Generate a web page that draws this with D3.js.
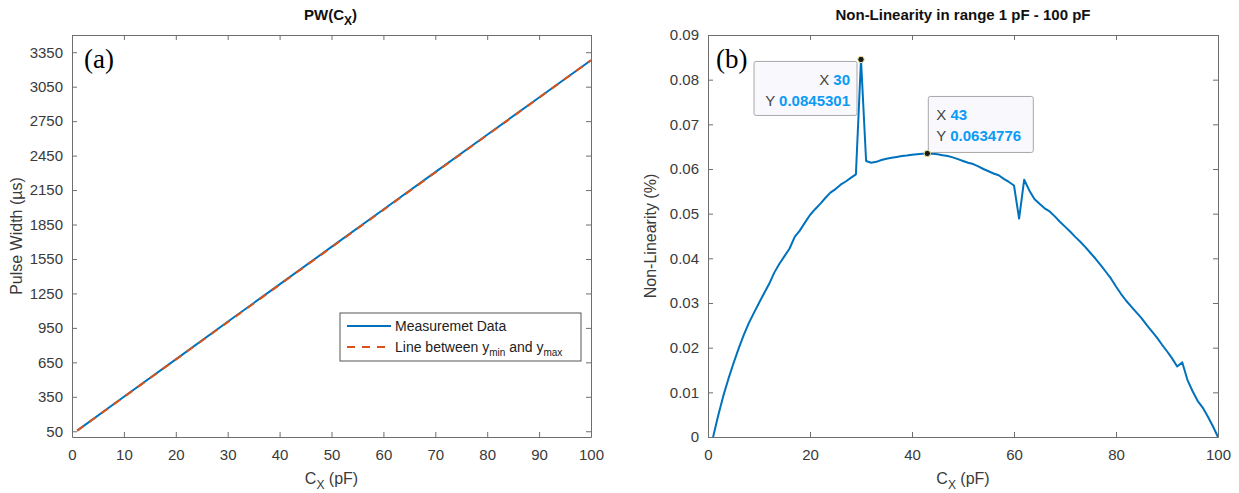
<!DOCTYPE html>
<html>
<head>
<meta charset="utf-8" />
<title>PW(Cx) and Non-Linearity</title>
<script src="https://d3js.org/d3.v7.min.js" charset="utf-8"></script>
<style>
  body { margin: 0; background: #fff; }
  svg { font-family: "Liberation Sans", Arial, sans-serif; }
  .axis path, .axis line { stroke: #6e6e6e; stroke-width: 1; }
  .axis text { fill: #3a3a3a; font-size: 15px; font-family: "Liberation Sans", Arial, sans-serif; }
  .lbl { fill: #3a3a3a; font-size: 16px; }
  .ttl { fill: #111; font-size: 15px; font-weight: bold; }
  .tag { fill: #000; font-size: 27px; font-family: "Liberation Serif", "Times New Roman", serif; }
</style>
</head>
<body>
<svg id="chart" width="1239" height="493"></svg>
<script>
// ---- data: left panel (pulse width) ----
var pwCx     = [1, 10, 20, 30, 40, 50, 60, 70, 80, 90, 100];
var pwValues = [55, 350, 676, 1003, 1329, 1655, 1981, 2306, 2631, 2956, 3280];
var fitCx     = [1, 100];
var fitValues = [55, 3280];
var pwTicksY  = [50, 350, 650, 950, 1250, 1550, 1850, 2150, 2450, 2750, 3050, 3350];
var pwTicksX  = [0, 10, 20, 30, 40, 50, 60, 70, 80, 90, 100];

// ---- data: right panel (non-linearity, %) ----
var nlCx = [
  1, 2, 3, 4, 5, 6, 7, 8, 9, 10, 11, 12, 13, 14, 15, 16, 17, 18, 19, 20,
  21, 22, 23, 24, 25, 26, 27, 28, 29, 30, 31, 32, 33, 34, 35, 36, 37, 38, 39, 40,
  41, 42, 43, 44, 45, 46, 47, 48, 49, 50, 51, 52, 53, 54, 55, 56, 57, 58, 59, 60,
  61, 62, 63, 64, 65, 66, 67, 68, 69, 70, 71, 72, 73, 74, 75, 76, 77, 78, 79, 80,
  81, 82, 83, 84, 85, 86, 87, 88, 89, 90, 91, 92, 93, 94, 95, 96, 97, 98, 99, 100
];
var nlValues = [
  0, 0.0048, 0.0092, 0.0130, 0.0165, 0.0198, 0.0228, 0.0255, 0.0278, 0.0300,
  0.0322, 0.0343, 0.0368, 0.0388, 0.0405, 0.0422, 0.0448, 0.0462, 0.0480, 0.0497,
  0.0510, 0.0522, 0.0535, 0.0547, 0.0555, 0.0565, 0.0572, 0.0580, 0.0588, 0.0845301,
  0.0618, 0.0614, 0.0616, 0.0620, 0.0623, 0.0625, 0.0627, 0.0629, 0.0630, 0.0632,
  0.0633, 0.0634, 0.0634776, 0.0634, 0.0633, 0.0631, 0.0629, 0.0626, 0.0622, 0.0618,
  0.0614, 0.0611, 0.0606, 0.0600, 0.0595, 0.0590, 0.0586, 0.0578, 0.0571, 0.0563,
  0.0489, 0.0576, 0.0552, 0.0533, 0.0522, 0.0512, 0.0505, 0.0494, 0.0482, 0.0471,
  0.0460, 0.0448, 0.0437, 0.0425, 0.0412, 0.0399, 0.0385, 0.0370, 0.0355, 0.0337,
  0.0320, 0.0305, 0.0292, 0.0279, 0.0266, 0.0251, 0.0237, 0.0223, 0.0207, 0.0192,
  0.0176, 0.0158, 0.0167, 0.0128, 0.0103, 0.0081, 0.0066, 0.0046, 0.0024, 0
];
var nlTicksY = [0, 0.01, 0.02, 0.03, 0.04, 0.05, 0.06, 0.07, 0.08, 0.09];
var nlTicksX = [0, 20, 40, 60, 80, 100];
var tipCx = [30, 43];
var tipValues = [0.0845301, 0.0634776];

// ---- settings ----
var blue = "#0072BD", orange = "#D95319", tickLen = 5;
var plotTop = 35, plotBottom = 437;
var svg = d3.select("#chart");

function boxAxes(g, sx, sy, ticksX, ticksY, fmtY) {
  var w = sx.range()[1] - sx.range()[0], h = sy.range()[0] - sy.range()[1];
  g.append("g").attr("class", "axis").attr("transform", "translate(0," + h + ")")
    .call(d3.axisBottom(sx).tickValues(ticksX).tickSizeInner(-tickLen).tickSizeOuter(0).tickPadding(12).tickFormat(d3.format("d")));
  g.append("g").attr("class", "axis")
    .call(d3.axisTop(sx).tickValues(ticksX).tickSizeInner(-tickLen).tickSizeOuter(0).tickFormat(""));
  g.append("g").attr("class", "axis")
    .call(d3.axisLeft(sy).tickValues(ticksY).tickSizeInner(-tickLen).tickSizeOuter(0).tickPadding(9).tickFormat(fmtY));
  g.append("g").attr("class", "axis").attr("transform", "translate(" + w + ",0)")
    .call(d3.axisRight(sy).tickValues(ticksY).tickSizeInner(-tickLen).tickSizeOuter(0).tickFormat(""));
  g.selectAll(".axis text").attr("fill", "#3a3a3a");
  g.selectAll(".axis line").attr("stroke", "#6e6e6e");
  g.selectAll(".axis path").attr("stroke", "#6e6e6e");
}

function xLabel(g, w, h) {
  var t = g.append("text").attr("class", "lbl").attr("x", w / 2).attr("y", h + 47).attr("text-anchor", "middle");
  t.append("tspan").text("C");
  t.append("tspan").attr("dy", 5).attr("font-size", 12).text("X");
  t.append("tspan").attr("dy", -5).text(" (pF)");
}

// ================= left panel =================
var w1 = 519, h1 = plotBottom - plotTop;
var x1 = d3.scaleLinear().domain([0, 100]).range([0, w1]);
var y1 = d3.scaleLinear().domain([0, 3500]).range([h1, 0]);
var leftG = svg.append("g").attr("transform", "translate(72," + plotTop + ")");

var pwLine = d3.line().x(function (d, i) { return x1(pwCx[i]); }).y(function (d) { return y1(d); });
var fitLine = d3.line().x(function (d, i) { return x1(fitCx[i]); }).y(function (d) { return y1(d); });

leftG.append("path").datum(pwValues).attr("d", pwLine)
  .attr("fill", "none").attr("stroke", blue).attr("stroke-width", 2);
leftG.append("path").datum(fitValues).attr("d", fitLine)
  .attr("fill", "none").attr("stroke", orange).attr("stroke-width", 2).attr("stroke-dasharray", "8,7");

boxAxes(leftG, x1, y1, pwTicksX, pwTicksY, d3.format("d"));
xLabel(leftG, w1, h1);

leftG.append("text").attr("class", "lbl").attr("text-anchor", "middle")
  .attr("transform", "translate(-50," + (h1 / 2) + ") rotate(-90)").text("Pulse Width (µs)");

var t1 = leftG.append("text").attr("class", "ttl").attr("x", w1 / 2 - 1).attr("y", -15).attr("text-anchor", "middle");
t1.append("tspan").text("PW(C");
t1.append("tspan").attr("dy", 5).attr("font-size", 12).text("X");
t1.append("tspan").attr("dy", -5).text(")");

leftG.append("text").attr("class", "tag").attr("x", 12).attr("y", 33).text("(a)");

// legend
var leg = leftG.append("g").attr("transform", "translate(268,278)");
leg.append("rect").attr("width", 241).attr("height", 48).attr("fill", "#fff").attr("stroke", "#555").attr("stroke-width", 1);
leg.append("line").attr("x1", 7).attr("x2", 51).attr("y1", 13).attr("y2", 13).attr("stroke", blue).attr("stroke-width", 2);
leg.append("line").attr("x1", 7).attr("x2", 51).attr("y1", 34).attr("y2", 34).attr("stroke", orange).attr("stroke-width", 2).attr("stroke-dasharray", "8,7");
leg.append("text").attr("x", 55).attr("y", 18).attr("font-size", 14).attr("fill", "#222").text("Measuremet Data");
var lt = leg.append("text").attr("x", 55).attr("y", 39).attr("font-size", 14).attr("fill", "#222");
lt.append("tspan").text("Line between y");
lt.append("tspan").attr("dy", 4).attr("font-size", 10).text("min");
lt.append("tspan").attr("dy", -4).text(" and y");
lt.append("tspan").attr("dy", 4).attr("font-size", 10).text("max");

// ================= right panel =================
var w2 = 510, h2 = plotBottom - plotTop;
var x2 = d3.scaleLinear().domain([0, 100]).range([0, w2]);
var y2 = d3.scaleLinear().domain([0, 0.09]).range([h2, 0]);
var rightG = svg.append("g").attr("transform", "translate(708," + plotTop + ")");

var nlLine = d3.line().x(function (d, i) { return x2(nlCx[i]); }).y(function (d) { return y2(d); });
rightG.append("path").datum(nlValues).attr("d", nlLine)
  .attr("fill", "none").attr("stroke", blue).attr("stroke-width", 2).attr("stroke-linejoin", "round");

boxAxes(rightG, x2, y2, nlTicksX, nlTicksY, function (d) { return d === 0 ? "0" : d3.format(".2f")(d); });
xLabel(rightG, w2, h2);

rightG.append("text").attr("class", "lbl").attr("text-anchor", "middle")
  .attr("transform", "translate(-52," + (h2 / 2) + ") rotate(-90)").text("Non-Linearity (%)");

rightG.append("text").attr("class", "ttl").attr("x", w2 / 2).attr("y", -15).attr("text-anchor", "middle")
  .text("Non-Linearity in range 1 pF - 100 pF");

rightG.append("text").attr("class", "tag").attr("x", 8).attr("y", 33).text("(b)");

// data tips
function dataTip(i, anchorRight) {
  var px = x2(tipCx[i]), py = y2(tipValues[i]);
  var bw = anchorRight ? 103 : 105, bh = anchorRight ? 54 : 56;
  var bx = anchorRight ? px - bw - 4 : px + 1;
  var by = anchorRight ? py + 2 : py - bh - 1;
  var g = rightG.append("g");
  g.append("rect").attr("x", bx).attr("y", by).attr("width", bw).attr("height", bh).attr("rx", 2)
    .attr("fill", "#f8f8fd").attr("stroke", "#a8a8a8").attr("stroke-width", 1);
  var tx = anchorRight ? bx + bw - 7 : bx + 8;
  var anchor = anchorRight ? "end" : "start";
  var r1 = g.append("text").attr("x", tx).attr("y", by + 24).attr("text-anchor", anchor).attr("font-size", 15);
  r1.append("tspan").attr("fill", "#444").text("X ");
  r1.append("tspan").attr("fill", "#0a9bf5").attr("font-weight", "bold").text(tipCx[i]);
  var r2 = g.append("text").attr("x", tx).attr("y", by + 45).attr("text-anchor", anchor).attr("font-size", 15);
  r2.append("tspan").attr("fill", "#444").text("Y ");
  r2.append("tspan").attr("fill", "#0a9bf5").attr("font-weight", "bold").text(tipValues[i]);
  rightG.append("circle").attr("cx", px).attr("cy", py).attr("r", 3.2)
    .attr("fill", "#1a1a1a").attr("stroke", "#f3e9a0").attr("stroke-width", 1);
}
dataTip(0, true);
dataTip(1, false);
</script>
</body>
</html>
